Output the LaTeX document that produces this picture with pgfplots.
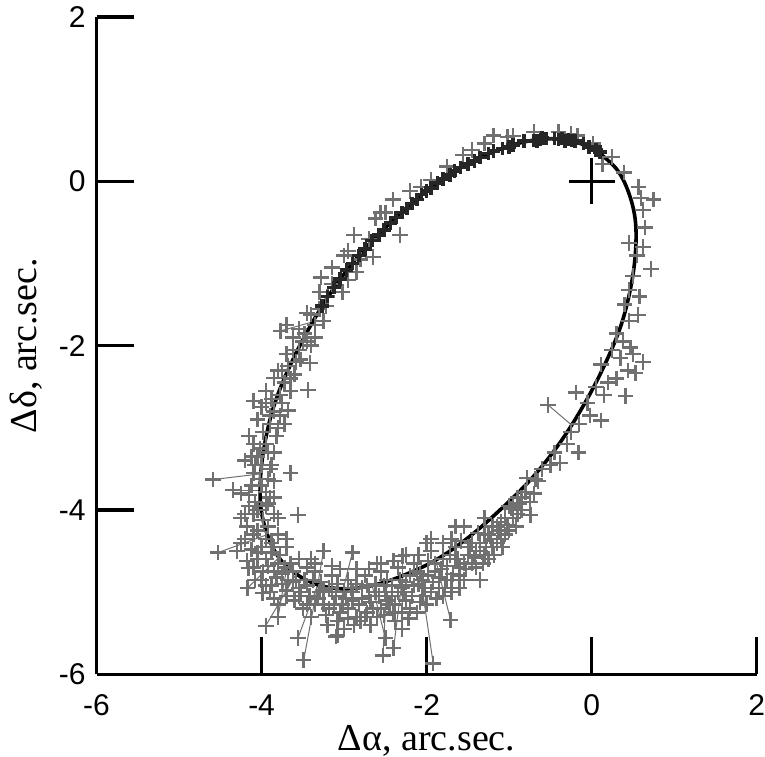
\documentclass[border=0pt]{standalone}
\usepackage{fontspec}
\setmainfont{Liberation Serif}
\newfontfamily\arial{Liberation Sans}
\usepackage{pgfplots}
\usepackage{pgfplotstable}
\pgfplotsset{compat=1.18}
\definecolor{obsgray}{rgb}{0.44,0.44,0.44}

% fitted orbit (every 10 deg of the parameter)
\pgfplotstableread{
x y
0.10 0.34
-0.16 0.47
-0.47 0.52
-0.82 0.48
-1.19 0.36
-1.59 0.17
-1.98 -0.10
-2.37 -0.44
-2.75 -0.82
-3.09 -1.25
-3.38 -1.71
-3.63 -2.19
-3.83 -2.67
-3.95 -3.13
-4.01 -3.56
-4.01 -3.96
-3.93 -4.30
-3.79 -4.58
-3.58 -4.78
-3.32 -4.91
-3.01 -4.96
-2.66 -4.92
-2.29 -4.80
-1.89 -4.61
-1.50 -4.34
-1.11 -4.00
-0.73 -3.62
-0.39 -3.19
-0.10 -2.73
0.15 -2.25
0.35 -1.77
0.47 -1.31
0.53 -0.88
0.53 -0.48
0.45 -0.14
0.31 0.14
0.10 0.34
}\orbit

% observations (gray)
\pgfplotstableread{
x y
-1.19 0.56
-1.02 0.54
-0.70 0.60
-0.17 0.56
0.13 0.21
0.39 0.11
0.57 -0.07
0.75 -0.22
-1.56 0.32
-2.07 -0.07
-2.41 -0.22
-2.32 -0.65
-2.50 -0.38
-1.30 0.46
-0.95 0.55
-0.40 0.60
-0.25 0.58
0.02 0.46
0.25 0.30
0.62 -0.35
-1.45 0.38
-1.75 0.18
-1.95 0.02
-2.20 -0.12
-2.62 -0.45
-2.56 -0.38
-2.70 -0.70
-2.88 -0.65
-3.00 -0.90
-3.28 -1.17
-3.02 -1.35
-2.85 -1.10
-2.65 -0.92
-3.15 -1.05
-3.20 -1.40
-3.30 -1.55
-3.45 -1.60
-3.25 -1.70
-3.70 -1.75
-3.62 -1.90
-3.50 -1.95
-3.35 -1.90
-3.53 -2.17
-3.41 -2.21
-3.70 -2.10
-3.80 -2.30
-3.85 -2.39
-3.60 -2.35
-3.44 -2.54
-3.65 -2.55
-3.95 -2.55
-4.10 -2.67
-3.75 -2.70
-3.68 -2.79
-3.90 -2.85
-4.05 -2.90
-3.80 -3.00
-4.15 -3.10
-3.95 -3.20
-3.85 -3.30
-4.05 -3.35
-4.20 -3.40
-3.90 -3.50
-4.10 -3.55
-3.85 -3.65
-4.00 -3.70
-4.25 -3.80
-3.90 -3.85
-4.15 -3.95
-4.10 -4.05
-4.25 -4.10
-3.85 -4.05
-4.05 -4.25
-4.20 -4.35
-3.80 -4.30
-4.00 -4.45
-4.30 -4.50
-3.95 -4.60
-4.10 -4.70
-3.70 -4.45
-3.85 -4.75
-4.00 -4.85
-3.65 -4.65
-3.75 -4.90
-3.90 -5.00
-3.55 -4.95
-3.60 -5.10
-3.80 -5.15
-3.45 -4.70
-3.50 -5.20
-3.99 -5.01
-4.16 -4.71
-3.35 -4.75
-3.30 -5.00
-3.25 -5.15
-3.40 -5.30
-3.15 -4.80
-3.10 -5.05
-3.05 -5.25
-3.20 -5.40
-2.95 -4.85
-2.90 -5.10
-2.85 -5.30
-3.00 -5.45
-2.75 -4.80
-2.70 -5.05
-2.65 -5.20
-2.80 -5.35
-2.55 -4.75
-2.50 -5.00
-2.45 -5.15
-2.60 -5.30
-2.35 -4.70
-2.30 -4.95
-2.25 -5.10
-2.40 -5.25
-2.15 -4.65
-2.10 -4.90
-2.05 -5.05
-2.20 -5.20
-1.95 -4.50
-1.90 -4.75
-1.85 -4.95
-2.00 -5.15
-1.80 -4.60
-1.75 -4.85
-1.70 -5.00
-3.56 -4.06
-3.65 -3.55
-2.60 -4.65
-2.00 -4.40
-1.65 -4.45
-1.60 -4.70
-1.55 -4.85
-1.50 -4.55
-1.45 -4.40
-1.40 -4.70
-1.35 -4.50
-1.30 -4.30
-1.25 -4.60
-1.20 -4.20
-1.15 -4.40
-1.10 -4.15
-1.05 -4.30
-1.00 -3.95
-0.95 -4.10
-0.90 -3.85
-0.85 -4.00
-1.30 -4.10
-1.55 -4.20
-1.60 -4.95
-1.35 -4.85
-1.70 -4.35
-0.74 -4.06
-0.78 -3.61
-0.70 -3.80
-0.60 -3.50
-0.65 -3.65
-0.50 -3.45
-0.45 -3.30
-0.38 -3.43
-0.30 -3.20
-0.25 -3.05
-0.16 -3.30
-0.15 -2.95
-0.02 -2.85
-0.05 -2.70
0.11 -2.91
0.05 -2.50
0.15 -2.60
0.20 -2.45
0.30 -2.40
0.41 -2.61
0.44 -2.30
0.53 -2.33
0.62 -2.20
0.35 -2.15
0.25 -2.05
0.50 -2.10
0.47 -2.02
0.38 -1.95
0.30 -1.85
0.56 -1.63
0.45 -1.70
0.40 -1.50
0.58 -1.40
0.45 -1.32
0.50 -1.15
0.72 -1.07
0.55 -0.90
0.62 -0.80
0.45 -0.75
0.65 -0.56
0.60 -0.20
-0.19 -2.57
0.11 -2.23
-4.08 -3.90
-3.95 -3.95
-4.18 -4.20
-3.92 -4.20
-4.12 -4.48
-3.88 -4.40
-3.78 -4.55
-4.05 -4.60
-3.92 -4.68
-3.72 -4.70
-3.68 -4.85
-3.82 -4.82
-3.95 -4.92
-3.62 -4.88
-3.48 -4.85
-3.42 -5.05
-3.55 -5.05
-3.70 -5.05
-3.35 -5.15
-3.28 -4.88
-3.18 -4.95
-3.12 -5.15
-3.22 -5.28
-3.00 -5.00
-3.02 -5.15
-2.92 -4.95
-2.95 -5.20
-2.88 -5.40
-2.78 -4.95
-2.82 -5.15
-2.72 -5.25
-2.62 -4.90
-2.58 -5.05
-2.55 -5.20
-2.68 -5.40
-2.48 -4.85
-2.42 -5.05
-2.38 -5.35
-2.32 -4.85
-2.28 -5.00
-2.20 -4.80
-2.18 -5.05
-2.12 -5.25
-2.08 -4.78
-2.02 -4.95
-1.98 -4.62
-1.92 -4.88
-1.88 -5.08
-1.82 -4.72
-1.78 -4.95
-1.72 -4.55
-1.68 -4.78
-1.62 -4.60
-1.58 -4.38
-1.52 -4.72
-1.48 -4.45
-1.42 -4.58
-1.38 -4.28
-1.32 -4.65
-1.28 -4.45
-1.22 -4.35
-1.18 -4.55
-1.12 -4.25
-1.08 -4.45
-1.02 -4.18
-0.98 -3.98
-0.92 -4.20
-0.88 -3.92
-0.80 -3.78
-0.75 -3.90
-0.68 -3.62
-3.40 -4.60
-3.05 -4.72
-2.70 -4.72
-2.40 -4.62
-2.10 -4.55
-1.80 -4.40
-3.70 -4.35
-3.80 -4.10
-3.85 -3.85
-3.88 -3.45
-3.98 -3.05
-3.90 -2.95
-3.78 -2.60
-3.88 -2.65
-3.72 -2.45
-3.58 -2.20
-3.68 -2.25
-3.48 -1.85
-3.55 -1.80
-3.40 -1.62
-3.35 -1.75
-4.02 -3.25
-4.12 -3.70
-3.95 -3.78
-4.08 -3.45
-3.92 -3.62
-3.82 -3.10
-3.72 -2.95
-4.00 -2.75
-3.62 -2.05
-3.30 -1.35
-3.15 -1.25
-3.22 -1.52
-2.95 -1.20
-2.80 -0.95
-2.95 -0.85
-4.02 -3.62
-4.15 -3.82
-4.05 -4.00
-4.20 -4.05
-3.98 -4.12
-4.10 -4.30
-3.95 -4.35
-4.25 -4.40
-4.05 -4.52
-3.88 -4.52
-4.18 -4.62
-3.98 -4.75
-3.80 -4.65
-4.08 -4.85
-3.88 -4.92
-3.75 -4.78
-3.62 -4.75
-3.58 -4.85
-3.70 -4.98
-3.85 -5.08
-3.52 -5.00
-3.45 -4.92
-3.38 -4.85
-3.45 -5.15
-3.32 -5.08
-3.25 -4.98
-3.15 -5.00
-3.08 -4.90
-3.18 -5.20
-3.08 -5.35
-2.98 -5.08
-2.90 -5.00
-2.85 -4.90
-2.95 -5.32
-2.78 -5.08
-2.72 -4.92
-2.68 -5.12
-2.62 -5.00
-2.75 -5.30
-2.52 -4.92
-2.48 -5.10
-2.52 -5.28
-2.42 -4.92
-2.35 -5.00
-2.38 -5.15
-2.30 -5.25
-2.25 -4.88
-2.15 -4.92
-2.22 -5.32
-2.12 -4.75
-2.05 -4.85
-2.08 -5.12
-1.98 -4.80
-1.95 -5.00
-1.90 -4.65
-1.85 -4.82
-1.80 -5.05
-1.75 -4.68
-1.70 -4.85
-1.65 -4.60
-1.60 -4.80
-1.55 -4.65
-1.50 -4.45
-1.45 -4.65
-1.40 -4.50
-1.35 -4.40
-1.30 -4.55
-1.25 -4.30
-1.20 -4.45
-1.15 -4.20
-1.10 -4.35
-1.05 -4.10
-1.00 -4.25
-0.95 -3.95
-0.90 -4.05
-0.85 -3.85
-3.55 -4.60
-3.35 -4.65
-3.15 -4.68
-2.85 -4.72
-2.55 -4.65
-2.25 -4.55
-1.95 -4.35
-1.65 -4.20
-3.85 -4.45
-3.92 -3.92
-3.92 -3.30
-4.10 -3.20
-4.00 -3.45
-4.12 -3.35
-3.85 -2.80
-3.95 -2.70
-3.78 -2.85
-3.65 -2.40
-3.75 -2.30
-3.55 -2.05
-3.45 -1.95
-3.40 -2.00
}\obs

% outlying observations with residual to the orbit
\pgfplotstableread{
x y u v
-4.59 -3.63 0.58 0.07
-4.35 -3.76 0.34 0.00
-4.53 -4.52 0.60 0.22
-3.95 -5.41 0.37 0.63
-3.56 -5.56 0.24 0.65
-3.10 -5.54 0.09 0.58
-2.50 -5.56 -0.16 0.64
-1.71 -5.34 -0.18 0.73
-3.49 -5.83 0.17 0.92
-3.08 -5.52 0.07 0.56
-2.53 -5.77 0.05 0.91
-2.40 -5.68 0.11 0.88
-1.92 -5.87 -0.17 1.16
-4.17 -4.95 0.38 0.37
-0.53 -2.72 0.28 -0.24
-3.77 -1.82 0.39 0.11
-3.25 -4.50 -0.07 -0.41
-2.90 -4.52 -0.11 -0.44
-2.29 -4.56 0.00 -0.24
-2.30 -5.45 0.01 0.65
-3.80 -5.30 0.11 0.62
}\outl

% dense measurements on the upper arc
\pgfplotstableread{
x y
0.10 0.36
0.05 0.38
-0.03 0.42
-0.10 0.46
-0.20 0.49
-0.24 0.50
-0.28 0.51
-0.32 0.49
-0.36 0.52
-0.40 0.51
-0.45 0.52
-0.55 0.52
-0.60 0.53
-0.62 0.51
-0.66 0.49
-0.70 0.50
-0.82 0.49
-0.95 0.44
-1.00 0.42
-1.08 0.40
-1.19 0.37
-1.25 0.34
-1.35 0.29
-1.42 0.25
-1.50 0.21
-1.59 0.17
-1.66 0.13
-1.72 0.08
-1.80 0.03
-1.87 -0.02
-1.95 -0.08
-2.00 -0.12
-2.06 -0.16
-2.12 -0.22
-2.18 -0.27
-2.24 -0.33
-2.30 -0.38
-2.37 -0.44
-2.44 -0.51
-2.52 -0.59
-2.58 -0.65
-2.66 -0.72
-2.75 -0.82
-2.82 -0.90
-2.90 -1.00
-2.97 -1.08
-3.05 -1.19
-3.12 -1.29
-3.20 -1.40
-3.27 -1.52
}\dark

\begin{document}
\begin{tikzpicture}
\begin{axis}[
    scale only axis,
    width=330pt, height=328.5pt,
    xmin=-6, xmax=2, ymin=-6, ymax=2,
    axis x line=bottom, axis y line=left,
    axis line style={-, line width=1.7pt, black},
    tick align=inside,
    major tick length=18.5pt,
    every tick/.style={line width=1.7pt, black},
    xtick={-6,-4,-2,0,2}, xticklabels={-6,-4,-2,0,2},
    ytick={-6,-4,-2,0,2}, yticklabels={-6,-4,-2,0,2},
    tick label style={font=\arial\fontsize{15}{15}\selectfont},
    xticklabel style={inner sep=0pt, yshift=-10pt},
    yticklabel style={xshift=-2pt},
    xlabel={Δα, arc.sec.},
    ylabel={Δδ, arc.sec.},
    label style={font=\fontsize{19}{19}\selectfont},
    xlabel style={at={(axis description cs:0.5,0)}, anchor=base, inner sep=0pt, yshift=-38pt},
    ylabel style={at={(axis description cs:0,0.5)}, anchor=base, inner sep=5pt, yshift=30pt},
    clip=false,
]
\addplot[obsgray, line width=0.5pt, quiver={u=\thisrow{u}, v=\thisrow{v}}] table[x=x, y=y] {\outl};
\addplot[only marks, mark=+, mark size=3.9pt, obsgray, mark options={line width=1.2pt}] table[x=x, y=y] {\obs};
\addplot[only marks, mark=+, mark size=3.9pt, obsgray, mark options={line width=1.2pt}] table[x=x, y=y] {\outl};
\addplot[black, line width=1.8pt, smooth, tension=0.6] table[x=x, y=y] {\orbit};
\addplot[only marks, mark=+, mark size=3.4pt, black!85, mark options={line width=1.8pt}] table[x=x, y=y] {\dark};
\addplot[only marks, mark=+, mark size=11.5pt, black, mark options={line width=1.3pt}] coordinates {(0,0)};
\end{axis}
\end{tikzpicture}
\end{document}
